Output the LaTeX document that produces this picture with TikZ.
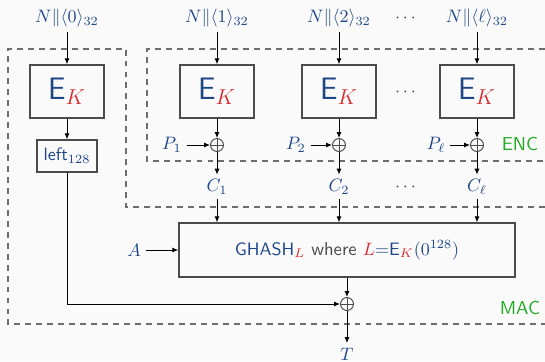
\documentclass[tikz,border=0pt]{standalone}
\usepackage{amsmath, amssymb}
\usepackage{xcolor}
\usepackage{tikz}
\usetikzlibrary{arrows.meta}
\definecolor{lblblue}{RGB}{30, 70, 135}
\definecolor{keyred}{RGB}{215, 40, 45}
\definecolor{reggreen}{RGB}{35, 170, 35}
\definecolor{edgegray}{RGB}{75, 75, 75}
\definecolor{dashgray}{RGB}{110, 110, 110}
\definecolor{bggray}{RGB}{250, 250, 250}

\newcommand{\EKey}{$\mathsf{E}_{\color{keyred}K}$}
\newcommand{\labelsize}{\fontsize{10.4}{12.5}\selectfont}

\tikzset{
  lbl/.style={text=lblblue, font=\labelsize, inner sep=2.5pt},
  dots/.style={text=edgegray, font=\labelsize, inner sep=1pt},
  ekbox/.style={draw=edgegray, line width=0.75pt, text=lblblue, font=\LARGE,
    minimum width=41.1pt, minimum height=29.5pt, inner sep=0pt},
  leftbox/.style={draw=edgegray, line width=0.75pt, text=lblblue, font=\labelsize,
    minimum width=33.4pt, minimum height=17.8pt, inner sep=0pt},
  ghbox/.style={draw=edgegray, line width=0.75pt, text=lblblue, font=\labelsize,
    minimum width=186.8pt, minimum height=30pt, inner sep=0pt},
  xor/.style={circle, draw=edgegray, line width=0.55pt, minimum size=7.2pt, inner sep=0pt,
    path picture={\draw[edgegray, line width=0.55pt]
      (path picture bounding box.north) -- (path picture bounding box.south)
      (path picture bounding box.west) -- (path picture bounding box.east);}},
  flow/.style={-{Latex[length=3.3pt, width=2.8pt]}, line width=0.55pt, black},
  region/.style={draw=dashgray, line width=0.8pt, dash pattern=on 3.3pt off 2.8pt},
  reglbl/.style={text=reggreen, font=\labelsize\sffamily, inner sep=1pt}
}

\begin{document}
\begin{tikzpicture}[x=0.556pt, y=-0.556pt]
  \fill[bggray] (0,0) rectangle (545,361);
  \useasboundingbox (0,0) rectangle (545,361);

  % --- Dashed regions ---
  \draw[region] (545,207) -- (126,207) -- (126,49) -- (8,49) -- (8,324) -- (545,324);
  \draw[region] (545,49) -- (147,49) -- (147,161) -- (545,161);
  \node[reglbl] (enc) at (520,144) {ENC};
  \node[reglbl] (mac) at (520,308) {MAC};

  % --- Counter inputs ---
  \node[lbl] (in0) at (67,18)  {$N\|\langle 0\rangle_{32}$};
  \node[lbl] (in1) at (217,18) {$N\|\langle 1\rangle_{32}$};
  \node[lbl] (in2) at (339,18) {$N\|\langle 2\rangle_{32}$};
  \node[lbl] (inl) at (477,18) {$N\|\langle \ell\rangle_{32}$};
  \node[dots] (dtop) at (407,18) {$\cdots$};

  % --- Block cipher calls ---
  \node[ekbox] (ek0) at (67,91.5)  {\EKey};
  \node[ekbox] (ek1) at (217,91.5) {\EKey};
  \node[ekbox] (ek2) at (339,91.5) {\EKey};
  \node[ekbox] (ekl) at (477,91.5) {\EKey};
  \node[dots] (dmid) at (407,92) {$\cdots$};

  \node[leftbox] (lft) at (67,156) {$\mathsf{left}_{128}$};

  % --- Plaintext xors ---
  \node[xor] (x1) at (217,145) {};
  \node[xor] (x2) at (339,145) {};
  \node[xor] (xl) at (477,145) {};
  \node[lbl] (p1) at (172,145) {$P_1$};
  \node[lbl] (p2) at (296,145) {$P_2$};
  \node[lbl] (pl) at (436,145) {$P_\ell$};

  \node[lbl] (c1) at (217,187) {$C_1$};
  \node[lbl] (c2) at (339,187) {$C_2$};
  \node[lbl] (cl) at (477,187) {$C_\ell$};
  \node[dots] (dbot) at (407,187) {$\cdots$};

  % --- MAC part ---
  \node[ghbox] (gh) at (347,250) {$\mathsf{GHASH}_{\color{keyred}L}$
    \textcolor{edgegray}{\textsf{where}}
    ${\color{keyred}L}{=}\mathsf{E}_{\color{keyred}K}(0^{128})$};
  \node[lbl] (a) at (134,250) {$A$};
  \node[xor] (xt) at (347,304) {};
  \node[lbl] (tag) at (347,354) {$T$};

  % --- Arrows ---
  \draw[flow] (in0) -- (ek0);
  \draw[flow] (in1) -- (ek1);
  \draw[flow] (in2) -- (ek2);
  \draw[flow] (inl) -- (ekl);

  \draw[flow] (ek0) -- (lft);
  \draw[flow] (ek1) -- (x1);
  \draw[flow] (ek2) -- (x2);
  \draw[flow] (ekl) -- (xl);

  \draw[flow] (p1) -- (x1);
  \draw[flow] (p2) -- (x2);
  \draw[flow] (pl) -- (xl);

  \draw[flow] (x1) -- (c1);
  \draw[flow] (x2) -- (c2);
  \draw[flow] (xl) -- (cl);

  \draw[flow] (c1) -- (c1 |- gh.north);
  \draw[flow] (c2) -- (c2 |- gh.north);
  \draw[flow] (cl) -- (cl |- gh.north);

  \draw[flow] (a) -- (gh);
  \draw[flow] (lft) |- (xt);
  \draw[flow] (gh) -- (xt);
  \draw[flow] (xt) -- (tag);
\end{tikzpicture}
\end{document}
